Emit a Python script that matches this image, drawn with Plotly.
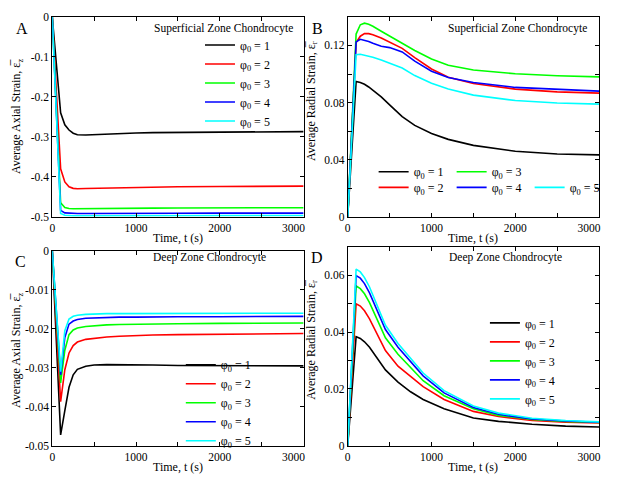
import plotly.graph_objects as go

# time grids (s)
t_sup = [0, 50, 100, 150, 200, 250, 300, 400, 500, 650, 800, 1000, 1200, 1500, 2000, 2500, 3000]
t_deep_ax = [0, 50, 100, 150, 200, 250, 300, 400, 500, 650, 800, 1000, 1200, 1500, 2000, 2500, 3000]
t_deep_rad = [0, 50, 100, 150, 200, 260, 350, 450, 600, 750, 900, 1150, 1500, 1800, 2200, 2600, 3000]

phi0 = [1, 2, 3, 4, 5]
colors = ["#000000", "#ff0000", "#00ff00", "#0000ff", "#00ffff"]

# A: superficial zone, axial strain
sup_axial = [
    [0, -0.12, -0.24, -0.27, -0.283, -0.291, -0.295, -0.2955, -0.2945, -0.293, -0.2915, -0.2905, -0.2895, -0.289, -0.288, -0.2875, -0.287],
    [0, -0.20, -0.38, -0.413, -0.425, -0.429, -0.430, -0.4295, -0.429, -0.428, -0.427, -0.426, -0.4255, -0.425, -0.4245, -0.424, -0.4235],
    [0, -0.24, -0.465, -0.477, -0.4795, -0.48, -0.48, -0.48, -0.4798, -0.4795, -0.479, -0.4787, -0.4784, -0.478, -0.4778, -0.4776, -0.4775],
    [0, -0.245, -0.484, -0.4905, -0.4915, -0.492, -0.492, -0.492, -0.4918, -0.4916, -0.4915, -0.4914, -0.4913, -0.4912, -0.4911, -0.491, -0.491],
    [0, -0.25, -0.492, -0.4965, -0.4975, -0.4975, -0.4975, -0.4975, -0.4974, -0.4973, -0.4972, -0.4972, -0.4971, -0.4971, -0.497, -0.497, -0.497],
]

# B: superficial zone, radial strain
sup_radial = [
    [0, 0.0474, 0.0948, 0.094, 0.0928, 0.0909, 0.0888, 0.084, 0.0784, 0.0702, 0.064, 0.0583, 0.0542, 0.050, 0.0459, 0.044, 0.0433],
    [0, 0.061, 0.122, 0.1265, 0.1283, 0.1283, 0.1275, 0.1252, 0.1225, 0.118, 0.1115, 0.1035, 0.0978, 0.0933, 0.0894, 0.0875, 0.0866],
    [0, 0.064, 0.128, 0.1345, 0.1356, 0.1348, 0.1335, 0.130, 0.1265, 0.1212, 0.1165, 0.1105, 0.1062, 0.1028, 0.1002, 0.0988, 0.098],
    [0, 0.0612, 0.1225, 0.1243, 0.1238, 0.1228, 0.1215, 0.1195, 0.1185, 0.1155, 0.109, 0.102, 0.0975, 0.0941, 0.0906, 0.0891, 0.088],
    [0, 0.057, 0.1135, 0.1138, 0.1133, 0.1126, 0.1118, 0.1098, 0.1076, 0.1042, 0.0989, 0.0936, 0.0895, 0.0852, 0.0814, 0.0797, 0.0789],
]

# C: deep zone, axial strain
deep_axial = [
    [0, -0.0236, -0.0472, -0.041, -0.035, -0.0318, -0.0304, -0.0296, -0.0293, -0.0292, -0.0292, -0.0293, -0.0293, -0.0294, -0.0294, -0.0295, -0.0295],
    [0, -0.0194, -0.0387, -0.0305, -0.0262, -0.0243, -0.0234, -0.0227, -0.0224, -0.0221, -0.0219, -0.0217, -0.0216, -0.0215, -0.0214, -0.0213, -0.0212],
    [0, -0.017, -0.0339, -0.0255, -0.0215, -0.0203, -0.0198, -0.0194, -0.0192, -0.019, -0.0189, -0.0188, -0.0187, -0.0187, -0.0186, -0.0186, -0.0185],
    [0, -0.0159, -0.0318, -0.0222, -0.0188, -0.018, -0.0176, -0.0173, -0.0172, -0.0171, -0.017, -0.017, -0.0169, -0.0169, -0.0169, -0.0168, -0.0168],
    [0, -0.0155, -0.031, -0.0205, -0.0175, -0.0168, -0.0165, -0.0163, -0.0162, -0.0161, -0.0161, -0.0161, -0.016, -0.016, -0.016, -0.016, -0.016],
]

# D: deep zone, radial strain
deep_radial = [
    [0, 0.0192, 0.0384, 0.0378, 0.0366, 0.0347, 0.031, 0.0267, 0.0224, 0.019, 0.0163, 0.013, 0.0098, 0.0086, 0.0076, 0.0069, 0.0066],
    [0, 0.025, 0.050, 0.0492, 0.0475, 0.0447, 0.0396, 0.0335, 0.028, 0.0245, 0.0208, 0.0163, 0.0121, 0.0103, 0.0089, 0.0083, 0.0080],
    [0, 0.0281, 0.05625, 0.0553, 0.0535, 0.0504, 0.0447, 0.038, 0.0322, 0.0275, 0.0229, 0.0176, 0.0130, 0.0107, 0.0093, 0.0086, 0.0082],
    [0, 0.030, 0.0599, 0.059, 0.0571, 0.0538, 0.0479, 0.0409, 0.0347, 0.0297, 0.0246, 0.0186, 0.0135, 0.0111, 0.0094, 0.0087, 0.0083],
    [0, 0.0311, 0.0622, 0.0612, 0.0592, 0.0559, 0.0497, 0.0424, 0.036, 0.0309, 0.0256, 0.0194, 0.014, 0.0115, 0.0097, 0.0089, 0.0084],
]

NBSP = "\u00a0"
x_ticks = [0, 1000, 2000, 3000]
x_ticktext = ["0", "1000", "2000", "3000" + NBSP * 7]
a_ticks = [0, -0.1, -0.2, -0.3, -0.4, -0.5]
a_ticktext = ["0", "-0.1", "-0.2", "-0.3", "-0.4", "-0.5"]
b_ticks = [0, 0.04, 0.08, 0.12]
b_ticktext = ["0", "0.04", "0.08", "0.12"]
c_ticks = [0, -0.01, -0.02, -0.03, -0.04, -0.05]
c_ticktext = ["0", "-0.01", "-0.02", "-0.03", "-0.04", "-0.05"]
d_ticks = [0, 0.02, 0.04, 0.06]
d_ticktext = ["0", "0.02", "0.04", "0.06"]

FONT = "Liberation Serif"
OFF = 8  # page body margin; positions below are measured on the 631x489 screen
W, H = 631 - 2 * OFF, 489 - 2 * OFF


def px(x):
    return (x - OFF) / W


def py(y):
    return 1 - (y - OFF) / H


fig = go.Figure()

panels = [
    (t_sup, sup_axial, "x", "y"),
    (t_sup, sup_radial, "x2", "y2"),
    (t_deep_ax, deep_axial, "x3", "y3"),
    (t_deep_rad, deep_radial, "x4", "y4"),
]
legend_of = [
    ["legend"] * 5,
    ["legend2", "legend3", "legend2", "legend3", "legend3"],
    ["legend4"] * 5,
    ["legend5"] * 5,
]

for p, (t, series, xa, ya) in enumerate(panels):
    for i, vals in enumerate(series):
        fig.add_trace(go.Scatter(
            x=t, y=vals, mode="lines",
            line=dict(color=colors[i], width=1.6),
            name=f"φ<sub>0</sub> = {phi0[i]}",
            xaxis=xa, yaxis=ya,
            legend=legend_of[p][i],
        ))

frame = dict(
    showline=True, linecolor="black", linewidth=1, mirror="ticks",
    ticks="inside", ticklen=4, tickcolor="black",
    showgrid=False, zeroline=False,
    tickfont=dict(family=FONT, size=11.5, color="black"),
)

xdom_l = [px(51), px(313)]
xdom_r = [px(359), px(621)]
ydom_t = [py(216), py(11)]

xcommon = dict(frame, range=[0, 3000], tickvals=x_ticks, ticktext=x_ticktext,
               minor=dict(dtick=500, ticks="inside", ticklen=4, tickcolor="black"))

fig.update_layout(
    width=W, height=H,
    margin=dict(l=0, r=0, t=0, b=0),
    paper_bgcolor="white", plot_bgcolor="white",
    font=dict(family=FONT, color="black"),
    xaxis=dict(xcommon, domain=xdom_l, anchor="y"),
    yaxis=dict(frame, domain=ydom_t, anchor="x", range=[-0.5, 0],
               tickvals=a_ticks, ticktext=a_ticktext),
    xaxis2=dict(xcommon, domain=xdom_r, anchor="y2"),
    yaxis2=dict(frame, domain=ydom_t, anchor="x2", range=[0, 0.14],
                tickvals=b_ticks, ticktext=b_ticktext,
                minor=dict(dtick=0.02, ticks="inside", ticklen=4, tickcolor="black")),
    xaxis3=dict(xcommon, domain=xdom_l, anchor="y3"),
    yaxis3=dict(frame, domain=[py(451), py(251)], anchor="x3", range=[-0.05, 0],
                tickvals=c_ticks, ticktext=c_ticktext),
    xaxis4=dict(xcommon, domain=xdom_r, anchor="y4"),
    yaxis4=dict(frame, domain=[py(451), py(247)], anchor="x4", range=[0, 0.07],
                tickvals=d_ticks, ticktext=d_ticktext,
                minor=dict(dtick=0.01, ticks="inside", ticklen=4, tickcolor="black")),
)

leg = dict(bgcolor="rgba(0,0,0,0)", font=dict(family=FONT, size=12, color="black"),
           xanchor="left", yanchor="top", borderwidth=0)
fig.update_layout(
    legend=dict(leg, x=px(205), y=py(25)),
    legend2=dict(leg, x=px(386), y=py(155), orientation="h", entrywidth=33),
    legend3=dict(leg, x=px(386), y=py(171), orientation="h", entrywidth=33),
    legend4=dict(leg, x=px(185), y=py(353)),
    legend5=dict(leg, x=px(502), y=py(310)),
)

ann = []


def label(text, x, y, size=12, angle=0):
    ann.append(dict(text=text, x=px(x), y=py(y), xref="paper", yref="paper",
                    showarrow=False, textangle=angle, xanchor="center", yanchor="middle",
                    font=dict(family=FONT, size=size, color="black")))


label("A", 19, 23, 16)
label("B", 327, 23, 16)
label("C", 18, 262, 16)
label("D", 327, 258, 16)
label("Superficial Zone Chondrocyte", 229, 23, 11.5)
label("Superficial Zone Chondrocyte", 536, 23, 11.5)
label("Deep Zone Chondrocyte", 215, 258, 11.5)
label("Deep Zone Chondrocyte", 523, 258, 11.5)
label("Time, t (s)", 182, 238, 12)
label("Time, t (s)", 490, 238, 12)
label("Time, t (s)", 182, 473, 12)
label("Time, t (s)", 490, 473, 12)
label("Average Axial Strain, ε\u0305<sub>z</sub>", 15, 113, 12, -90)
label("Average Radial Strain, ε\u0305<sub>r</sub>", 321, 97, 12, -90)
label("Average Axial Strain, ε\u0305<sub>z</sub>", 15, 353, 12, -90)
label("Average Radial Strain, ε\u0305<sub>r</sub>", 321, 342, 12, -90)
fig.update_layout(annotations=ann)

fig.write_html("out.html")
